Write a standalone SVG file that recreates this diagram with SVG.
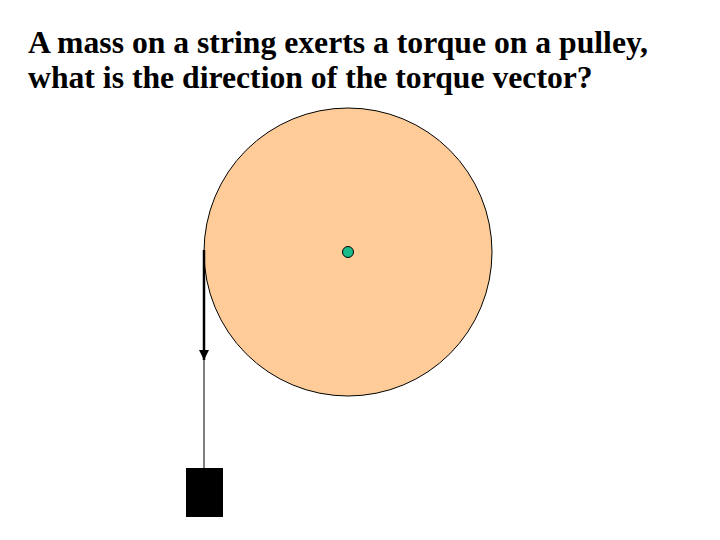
<svg xmlns="http://www.w3.org/2000/svg" width="720" height="540" viewBox="0 0 720 540">
<style>
.title{font-family:"Liberation Serif","Times New Roman",serif;font-weight:bold;font-size:31.7px;fill:#000}
</style>
<defs>
<marker id="ah" viewBox="0 0 10 10" refX="10" refY="5" markerWidth="4" markerHeight="4" markerUnits="strokeWidth" orient="auto">
<path d="M0,0 L10,5 L0,10 z" fill="#000"/>
</marker>
</defs>
<rect width="720" height="540" fill="#fff"/>
<g id="title">
<text class="title" x="28" y="53">A mass on a string exerts a torque on a pulley,</text>
<text class="title" x="28" y="88">what is the direction of the torque vector?</text>
</g>
<g id="pulley">
<circle cx="348" cy="252" r="144" fill="#FFCC99" stroke="#000" stroke-width="1"/>
</g>
<g id="axle">
<circle cx="348" cy="252" r="5.5" fill="#1ABC8C" stroke="#000" stroke-width="1"/>
</g>
<g id="connectors">
<line x1="204" y1="250" x2="204" y2="469" stroke="#000" stroke-width="1"/>
<line x1="204" y1="250" x2="204" y2="360" stroke="#000" stroke-width="2.5" marker-end="url(#ah)"/>
</g>
<g id="mass">
<rect x="186" y="468" width="37" height="49" fill="#000"/>
</g>
</svg>
